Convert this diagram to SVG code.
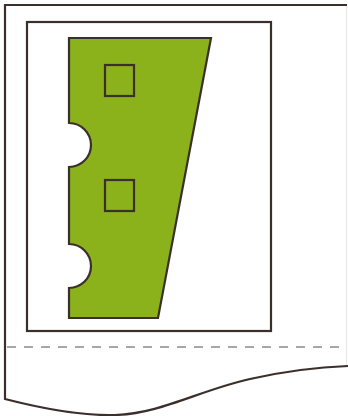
<svg xmlns="http://www.w3.org/2000/svg" width="348" height="416" viewBox="0 0 348 416">
<style>
.ln{fill:none;stroke:#3b2f2c;stroke-width:2.2;stroke-linejoin:miter}
.grn{fill:#8bb21b;stroke:#3b2f2c;stroke-width:2.2;stroke-linejoin:miter}
.dash{fill:none;stroke:#8a8a8a;stroke-width:1.5;stroke-dasharray:9 8}
</style>
<rect width="348" height="416" fill="#ffffff"/>
<g id="paper">
<line x1="346.5" y1="6" x2="346.5" y2="366" stroke="#e8e8e8" stroke-width="1.2"/>
<path class="ln" d="M347,5 H5 V399 C40,408 80,416 115,415 C160,414 200,390 250,379 C290,370 320,367 348,366" stroke-width="2.5"/>
</g>
<g id="cutline">
<line class="dash" x1="7" y1="347" x2="346" y2="347"/>
</g>
<g id="frame">
<rect class="ln" x="27" y="22" width="244" height="309"/>
</g>
<g id="shape">
<path class="grn" d="M69,38 H211 L158,318 H69 V288 A22,22 0 0 0 69,244 V167 A22,22 0 0 0 69,123 Z"/>
<rect class="ln" x="105" y="65" width="29" height="31"/>
<rect class="ln" x="105" y="180" width="29" height="31"/>
</g>
</svg>
